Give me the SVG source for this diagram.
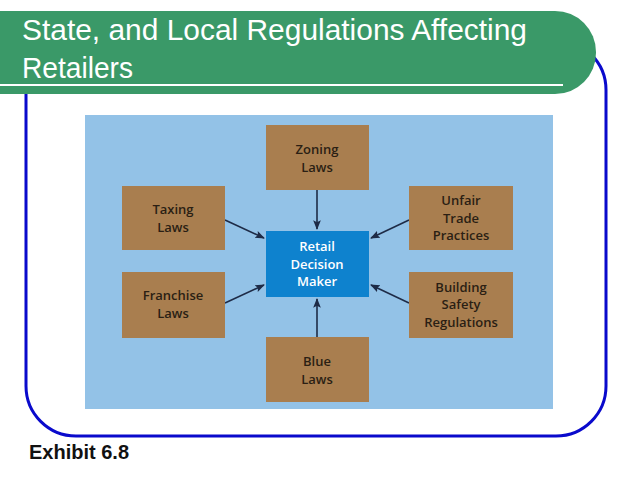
<svg xmlns="http://www.w3.org/2000/svg" width="638" height="479" viewBox="0 0 638 479">
<defs>
<style>
.title{font-family:"Liberation Sans",Arial,sans-serif;font-size:29px;fill:#ffffff}
.box{fill:#A97E4F}
.btxt{font-family:"Open Sans","Noto Sans",sans-serif;font-weight:600;font-size:13px;fill:#2B1F14;text-anchor:middle}
.ctxt{font-family:"Open Sans","Noto Sans",sans-serif;font-weight:600;font-size:13px;fill:#ffffff;text-anchor:middle}
.conn line{stroke:#1E2B47;stroke-width:1.6;marker-end:url(#ah)}
</style>
<marker id="ah" viewBox="0 0 10 10" refX="9" refY="5" markerWidth="6" markerHeight="6" orient="auto" markerUnits="strokeWidth">
<path d="M0,1 L10,5 L0,9 L2,5 Z" fill="#1E2B47"/>
</marker>
</defs>
<rect width="638" height="479" fill="#ffffff"/>
<rect id="frame" x="26" y="40" width="580" height="396" rx="50" ry="50" fill="none" stroke="#0A0ACC" stroke-width="3"/>
<g id="titlebar">
<path d="M0,11 H555 A41,41 0 0 1 596,52 V53 A41,41 0 0 1 555,94 H0 Z" fill="#3A9968"/>
<line x1="0" y1="85" x2="563" y2="85" stroke="#ffffff" stroke-width="2"/>
<text class="title" x="22" y="40" textLength="505" lengthAdjust="spacingAndGlyphs">State, and Local Regulations Affecting</text>
<text class="title" x="22" y="78" textLength="111" lengthAdjust="spacingAndGlyphs">Retailers</text>
</g>
<rect id="panel" x="85" y="115" width="468" height="294" fill="#93C2E7"/>
<g class="conn" id="connectors">
<line x1="317" y1="190" x2="317" y2="229"/>
<line x1="225" y1="220" x2="264" y2="238"/>
<line x1="225" y1="303" x2="264" y2="285"/>
<line x1="409" y1="220" x2="371" y2="238"/>
<line x1="409" y1="303" x2="371" y2="285"/>
<line x1="317" y1="337" x2="317" y2="299"/>
</g>
<g id="zoning"><rect class="box" x="266" y="125" width="103" height="65"/>
<text class="btxt" x="317" y="154">Zoning</text><text class="btxt" x="317" y="172">Laws</text></g>
<g id="taxing"><rect class="box" x="122" y="186" width="103" height="64"/>
<text class="btxt" x="173" y="214">Taxing</text><text class="btxt" x="173" y="232">Laws</text></g>
<g id="unfair"><rect class="box" x="409" y="186" width="104" height="64"/>
<text class="btxt" x="461" y="205">Unfair</text><text class="btxt" x="461" y="222.5">Trade</text><text class="btxt" x="461" y="240">Practices</text></g>
<g id="center"><rect x="266" y="231" width="103" height="66" fill="#0E82CE"/>
<text class="ctxt" x="317" y="251">Retail</text><text class="ctxt" x="317" y="269">Decision</text><text class="ctxt" x="317" y="286">Maker</text></g>
<g id="franchise"><rect class="box" x="122" y="272" width="103" height="66"/>
<text class="btxt" x="173" y="300">Franchise</text><text class="btxt" x="173" y="318">Laws</text></g>
<g id="building"><rect class="box" x="409" y="272" width="104" height="66"/>
<text class="btxt" x="461" y="291.5">Building</text><text class="btxt" x="461" y="309">Safety</text><text class="btxt" x="461" y="326.5">Regulations</text></g>
<g id="blue"><rect class="box" x="266" y="337" width="103" height="65"/>
<text class="btxt" x="317" y="366">Blue</text><text class="btxt" x="317" y="383.5">Laws</text></g>
<text x="29" y="459" font-family="Liberation Sans,Arial,sans-serif" font-weight="bold" font-size="20" fill="#111111">Exhibit 6.8</text>
</svg>
